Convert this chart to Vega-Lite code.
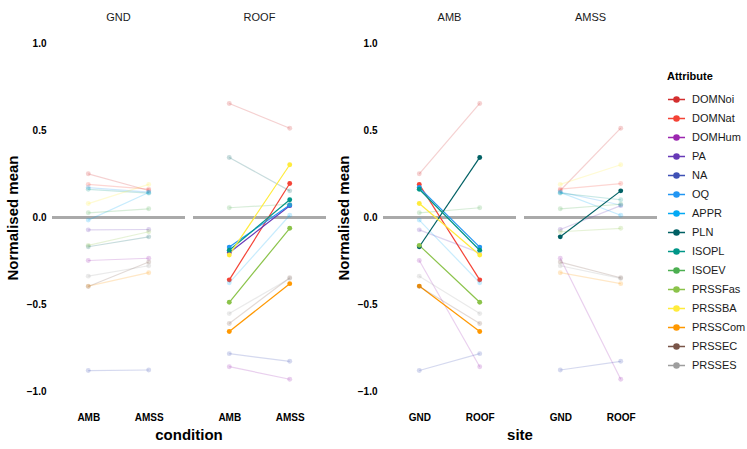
{
  "$schema": "https://vega.github.io/schema/vega-lite/v6.json",
  "padding": {"left": 5, "top": 12, "right": 0, "bottom": 3},
  "config": {
    "font": "Liberation Sans",
    "view": {"stroke": null},
    "axis": {"domain": false, "ticks": false},
    "axisX": {
      "grid": false,
      "labelAngle": 0,
      "labelFontSize": 10,
      "labelFontWeight": "bold",
      "labelColor": "#000000",
      "labelPadding": 3
    },
    "axisY": {
      "labelFontSize": 10,
      "labelFontWeight": "bold",
      "labelColor": "#000000",
      "labelPadding": 5,
      "titleFontSize": 15,
      "titleFontWeight": "bold",
      "titleColor": "#000000",
      "titlePadding": 6
    },
    "header": {
      "labelFontSize": 11,
      "labelColor": "#1a1a1a",
      "labelPadding": 3,
      "titleFontSize": 15,
      "titleFontWeight": "bold",
      "titleColor": "#000000",
      "titlePadding": -4
    },
    "legend": {
      "orient": "none",
      "legendX": 615,
      "legendY": 45,
      "titleFontSize": 11,
      "titleFontWeight": "bold",
      "titleColor": "#000000",
      "titlePadding": 8,
      "labelFontSize": 11,
      "labelColor": "#1a1a1a",
      "labelOffset": 6,
      "rowPadding": 3,
      "symbolType": "M-1,0H1M-0.3,0a0.3,0.3 0 1,0 0.6,0a0.3,0.3 0 1,0 -0.6,0",
      "symbolSize": 290,
      "symbolStrokeWidth": 1.5
    }
  },
  "data": {
    "values": [
      {"attr": "DOMNoi", "site": "GND", "condition": "AMB", "value": 0.251, "hl_site": 0, "hl_cond": 0},
      {"attr": "DOMNoi", "site": "GND", "condition": "AMSS", "value": 0.155, "hl_site": 0, "hl_cond": 0},
      {"attr": "DOMNoi", "site": "ROOF", "condition": "AMB", "value": 0.655, "hl_site": 0, "hl_cond": 0},
      {"attr": "DOMNoi", "site": "ROOF", "condition": "AMSS", "value": 0.513, "hl_site": 0, "hl_cond": 0},
      {"attr": "DOMNat", "site": "GND", "condition": "AMB", "value": 0.19, "hl_site": 0, "hl_cond": 1},
      {"attr": "DOMNat", "site": "GND", "condition": "AMSS", "value": 0.163, "hl_site": 0, "hl_cond": 0},
      {"attr": "DOMNat", "site": "ROOF", "condition": "AMB", "value": -0.358, "hl_site": 1, "hl_cond": 1},
      {"attr": "DOMNat", "site": "ROOF", "condition": "AMSS", "value": 0.195, "hl_site": 1, "hl_cond": 0},
      {"attr": "DOMHum", "site": "GND", "condition": "AMB", "value": -0.247, "hl_site": 0, "hl_cond": 0},
      {"attr": "DOMHum", "site": "GND", "condition": "AMSS", "value": -0.234, "hl_site": 0, "hl_cond": 0},
      {"attr": "DOMHum", "site": "ROOF", "condition": "AMB", "value": -0.857, "hl_site": 0, "hl_cond": 0},
      {"attr": "DOMHum", "site": "ROOF", "condition": "AMSS", "value": -0.929, "hl_site": 0, "hl_cond": 0},
      {"attr": "PA", "site": "GND", "condition": "AMB", "value": -0.071, "hl_site": 0, "hl_cond": 0},
      {"attr": "PA", "site": "GND", "condition": "AMSS", "value": -0.069, "hl_site": 0, "hl_cond": 0},
      {"attr": "PA", "site": "ROOF", "condition": "AMB", "value": -0.203, "hl_site": 1, "hl_cond": 0},
      {"attr": "PA", "site": "ROOF", "condition": "AMSS", "value": 0.068, "hl_site": 1, "hl_cond": 0},
      {"attr": "NA", "site": "GND", "condition": "AMB", "value": -0.879, "hl_site": 0, "hl_cond": 0},
      {"attr": "NA", "site": "GND", "condition": "AMSS", "value": -0.876, "hl_site": 0, "hl_cond": 0},
      {"attr": "NA", "site": "ROOF", "condition": "AMB", "value": -0.782, "hl_site": 0, "hl_cond": 0},
      {"attr": "NA", "site": "ROOF", "condition": "AMSS", "value": -0.826, "hl_site": 0, "hl_cond": 0},
      {"attr": "OQ", "site": "GND", "condition": "AMB", "value": 0.172, "hl_site": 0, "hl_cond": 1},
      {"attr": "OQ", "site": "GND", "condition": "AMSS", "value": 0.146, "hl_site": 0, "hl_cond": 0},
      {"attr": "OQ", "site": "ROOF", "condition": "AMB", "value": -0.17, "hl_site": 1, "hl_cond": 1},
      {"attr": "OQ", "site": "ROOF", "condition": "AMSS", "value": 0.072, "hl_site": 1, "hl_cond": 0},
      {"attr": "APPR", "site": "GND", "condition": "AMB", "value": -0.015, "hl_site": 0, "hl_cond": 0},
      {"attr": "APPR", "site": "GND", "condition": "AMSS", "value": 0.144, "hl_site": 0, "hl_cond": 0},
      {"attr": "APPR", "site": "ROOF", "condition": "AMB", "value": -0.375, "hl_site": 0, "hl_cond": 0},
      {"attr": "APPR", "site": "ROOF", "condition": "AMSS", "value": 0.013, "hl_site": 0, "hl_cond": 0},
      {"attr": "PLN", "site": "GND", "condition": "AMB", "value": -0.168, "hl_site": 0, "hl_cond": 1},
      {"attr": "PLN", "site": "GND", "condition": "AMSS", "value": -0.111, "hl_site": 0, "hl_cond": 1},
      {"attr": "PLN", "site": "ROOF", "condition": "AMB", "value": 0.345, "hl_site": 0, "hl_cond": 1},
      {"attr": "PLN", "site": "ROOF", "condition": "AMSS", "value": 0.153, "hl_site": 0, "hl_cond": 1},
      {"attr": "ISOPL", "site": "GND", "condition": "AMB", "value": 0.162, "hl_site": 0, "hl_cond": 1},
      {"attr": "ISOPL", "site": "GND", "condition": "AMSS", "value": 0.14, "hl_site": 0, "hl_cond": 0},
      {"attr": "ISOPL", "site": "ROOF", "condition": "AMB", "value": -0.188, "hl_site": 1, "hl_cond": 1},
      {"attr": "ISOPL", "site": "ROOF", "condition": "AMSS", "value": 0.102, "hl_site": 1, "hl_cond": 0},
      {"attr": "ISOEV", "site": "GND", "condition": "AMB", "value": 0.027, "hl_site": 0, "hl_cond": 0},
      {"attr": "ISOEV", "site": "GND", "condition": "AMSS", "value": 0.05, "hl_site": 0, "hl_cond": 0},
      {"attr": "ISOEV", "site": "ROOF", "condition": "AMB", "value": 0.056, "hl_site": 0, "hl_cond": 0},
      {"attr": "ISOEV", "site": "ROOF", "condition": "AMSS", "value": 0.076, "hl_site": 0, "hl_cond": 0},
      {"attr": "PRSSFas", "site": "GND", "condition": "AMB", "value": -0.16, "hl_site": 0, "hl_cond": 1},
      {"attr": "PRSSFas", "site": "GND", "condition": "AMSS", "value": -0.082, "hl_site": 0, "hl_cond": 0},
      {"attr": "PRSSFas", "site": "ROOF", "condition": "AMB", "value": -0.487, "hl_site": 1, "hl_cond": 1},
      {"attr": "PRSSFas", "site": "ROOF", "condition": "AMSS", "value": -0.062, "hl_site": 1, "hl_cond": 0},
      {"attr": "PRSSBA", "site": "GND", "condition": "AMB", "value": 0.08, "hl_site": 0, "hl_cond": 1},
      {"attr": "PRSSBA", "site": "GND", "condition": "AMSS", "value": 0.19, "hl_site": 0, "hl_cond": 0},
      {"attr": "PRSSBA", "site": "ROOF", "condition": "AMB", "value": -0.215, "hl_site": 1, "hl_cond": 1},
      {"attr": "PRSSBA", "site": "ROOF", "condition": "AMSS", "value": 0.303, "hl_site": 1, "hl_cond": 0},
      {"attr": "PRSSCom", "site": "GND", "condition": "AMB", "value": -0.394, "hl_site": 0, "hl_cond": 1},
      {"attr": "PRSSCom", "site": "GND", "condition": "AMSS", "value": -0.317, "hl_site": 0, "hl_cond": 0},
      {"attr": "PRSSCom", "site": "ROOF", "condition": "AMB", "value": -0.655, "hl_site": 1, "hl_cond": 1},
      {"attr": "PRSSCom", "site": "ROOF", "condition": "AMSS", "value": -0.38, "hl_site": 1, "hl_cond": 0},
      {"attr": "PRSSEC", "site": "GND", "condition": "AMB", "value": -0.396, "hl_site": 0, "hl_cond": 0},
      {"attr": "PRSSEC", "site": "GND", "condition": "AMSS", "value": -0.256, "hl_site": 0, "hl_cond": 0},
      {"attr": "PRSSEC", "site": "ROOF", "condition": "AMB", "value": -0.609, "hl_site": 0, "hl_cond": 0},
      {"attr": "PRSSEC", "site": "ROOF", "condition": "AMSS", "value": -0.346, "hl_site": 0, "hl_cond": 0},
      {"attr": "PRSSES", "site": "GND", "condition": "AMB", "value": -0.337, "hl_site": 0, "hl_cond": 0},
      {"attr": "PRSSES", "site": "GND", "condition": "AMSS", "value": -0.277, "hl_site": 0, "hl_cond": 0},
      {"attr": "PRSSES", "site": "ROOF", "condition": "AMB", "value": -0.552, "hl_site": 0, "hl_cond": 0},
      {"attr": "PRSSES", "site": "ROOF", "condition": "AMSS", "value": -0.35, "hl_site": 0, "hl_cond": 0}
    ]
  },
  "hconcat": [
    {
      "facet": {
        "column": {"field": "site", "type": "nominal", "header": {"title": "condition", "titleOrient": "bottom", "labelOrient": "top"}}
      },
      "spacing": 6,
      "spec": {
        "width": 133,
        "height": 383,
        "encoding": {
          "y": {
            "type": "quantitative",
            "scale": {"domain": [-1.1, 1.1], "nice": false, "zero": false},
            "axis": {
              "title": "Normalised mean",
              "values": [-1, -0.75, -0.5, -0.25, 0, 0.25, 0.5, 0.75, 1],
              "labelExpr": "datum.value % 0.5 == 0 ? format(datum.value, '.1f') : ''",
              "gridColor": {"condition": {"test": "datum.value % 0.5 == 0", "value": "#ebebeb"}, "value": "#f5f5f5"},
              "gridWidth": 1
            }
          }
        },
        "layer": [
          {
            "mark": {"type": "rule", "color": "#a9a9a9", "strokeWidth": 2},
            "encoding": {"y": {"datum": 0}}
          },
          {
            "mark": {"type": "line", "strokeWidth": 1.2},
            "encoding": {
              "x": {"field": "condition", "type": "nominal", "title": null, "scale": {"type": "point", "padding": 0.6}},
              "y": {"field": "value"},
              "color": {"field": "attr", "type": "nominal", "title": "Attribute", "scale": {"domain": ["DOMNoi", "DOMNat", "DOMHum", "PA", "NA", "OQ", "APPR", "PLN", "ISOPL", "ISOEV", "PRSSFas", "PRSSBA", "PRSSCom", "PRSSEC", "PRSSES"], "range": ["#D32F2F", "#F44336", "#9C27B0", "#673AB7", "#3F51B5", "#2196F3", "#03A9F4", "#006064", "#009688", "#4CAF50", "#8BC34A", "#FFEB3B", "#FF9800", "#795548", "#9E9E9E"]}},
              "opacity": {"condition": {"test": "datum.hl_site == 1", "value": 1}, "value": 0.22}
            }
          },
          {
            "mark": {"type": "point", "filled": true, "size": 24},
            "encoding": {
              "x": {"field": "condition", "type": "nominal", "title": null, "scale": {"type": "point", "padding": 0.6}},
              "y": {"field": "value"},
              "color": {"field": "attr", "type": "nominal", "title": "Attribute"},
              "opacity": {"condition": {"test": "datum.hl_site == 1", "value": 1}, "value": 0.22}
            }
          }
        ]
      }
    },
    {
      "facet": {
        "column": {"field": "condition", "type": "nominal", "header": {"title": "site", "titleOrient": "bottom", "labelOrient": "top"}}
      },
      "spacing": 6,
      "spec": {
        "width": 133,
        "height": 383,
        "encoding": {
          "y": {
            "type": "quantitative",
            "scale": {"domain": [-1.1, 1.1], "nice": false, "zero": false},
            "axis": {
              "title": "Normalised mean",
              "values": [-1, -0.75, -0.5, -0.25, 0, 0.25, 0.5, 0.75, 1],
              "labelExpr": "datum.value % 0.5 == 0 ? format(datum.value, '.1f') : ''",
              "gridColor": {"condition": {"test": "datum.value % 0.5 == 0", "value": "#ebebeb"}, "value": "#f5f5f5"},
              "gridWidth": 1
            }
          }
        },
        "layer": [
          {
            "mark": {"type": "rule", "color": "#a9a9a9", "strokeWidth": 2},
            "encoding": {"y": {"datum": 0}}
          },
          {
            "mark": {"type": "line", "strokeWidth": 1.2},
            "encoding": {
              "x": {"field": "site", "type": "nominal", "title": null, "scale": {"type": "point", "padding": 0.6}},
              "y": {"field": "value"},
              "color": {"field": "attr", "type": "nominal", "title": "Attribute"},
              "opacity": {"condition": {"test": "datum.hl_cond == 1", "value": 1}, "value": 0.22}
            }
          },
          {
            "mark": {"type": "point", "filled": true, "size": 24},
            "encoding": {
              "x": {"field": "site", "type": "nominal", "title": null, "scale": {"type": "point", "padding": 0.6}},
              "y": {"field": "value"},
              "color": {"field": "attr", "type": "nominal", "title": "Attribute"},
              "opacity": {"condition": {"test": "datum.hl_cond == 1", "value": 1}, "value": 0.22}
            }
          }
        ]
      }
    }
  ],
  "spacing": 9,
  "resolve": {"scale": {"color": "shared"}}
}
